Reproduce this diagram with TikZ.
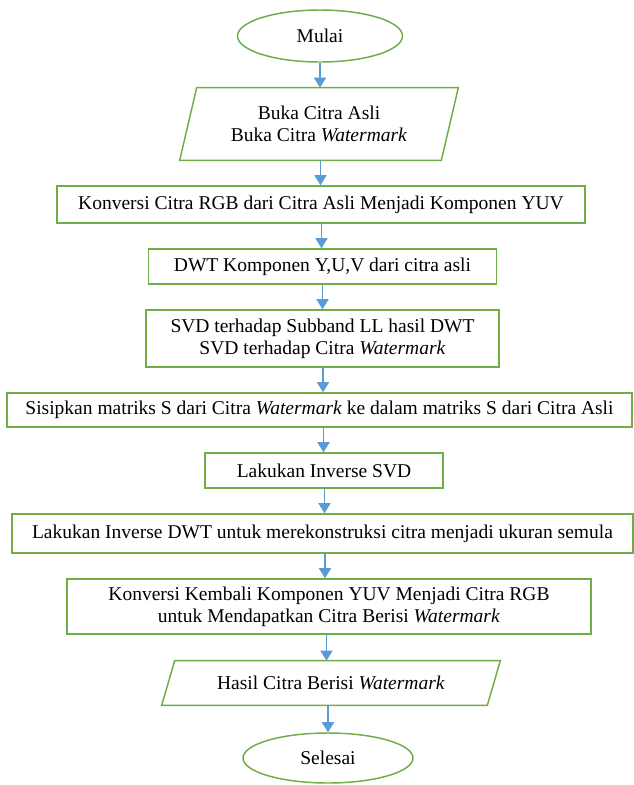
\documentclass[tikz,border=0pt]{standalone}
\usepackage{fontspec}
\setmainfont{Liberation Serif}
\usetikzlibrary{shapes.geometric,arrows.meta,calc}
\definecolor{boxgreen}{HTML}{70AD47}
\definecolor{arrblue}{HTML}{5B9BD5}
\def\u{0.615pt}
\begin{document}
\begin{tikzpicture}[x=0.615pt,y=-0.615pt,
  every node/.style={font=\fontsize{12}{13.4}\selectfont, align=center, inner sep=0pt},
  procbox/.style={draw=boxgreen, line width=0.9pt, fill=white, rectangle},
  termbox/.style={draw=boxgreen, line width=0.9pt, fill=white, ellipse},
  iobox/.style={rectangle},
  pgram/.style={draw=boxgreen, line width=0.9pt, line join=miter},
  arr/.style={draw=arrblue, line width=1pt, -{Triangle[width=7.4pt,length=6.2pt]}}
]
\useasboundingbox (0,0) rectangle (634,785);
\fill[white] (0,0) rectangle (634,785);

% nodes
\node[termbox, minimum width={165*\u}, minimum height={52*\u}] (mulai) at (320,36) {Mulai};
\node[iobox, minimum width={261*\u}, minimum height={72*\u}] (p1) at (319,124) {Buka Citra Asli\\Buka Citra \textit{Watermark}};
\node[procbox, minimum width={528*\u}, minimum height={37*\u}] (k1) at (321,204.5) {Konversi Citra RGB dari Citra Asli Menjadi Komponen YUV};
\node[procbox, minimum width={348*\u}, minimum height={35*\u}] (dwt) at (322.5,266.5) {DWT Komponen Y,U,V dari citra asli};
\node[procbox, minimum width={353*\u}, minimum height={57*\u}] (svd) at (322.5,338.5) {SVD terhadap Subband LL hasil DWT\\SVD terhadap Citra \textit{Watermark}};
\node[procbox, minimum width={625*\u}, minimum height={34*\u}] (sis) at (319.5,410) {Sisipkan matriks S dari Citra \textit{Watermark} ke dalam matriks S dari Citra Asli};
\node[procbox, minimum width={238*\u}, minimum height={35*\u}] (isvd) at (324,470.5) {Lakukan Inverse SVD};
\node[procbox, minimum width={621*\u}, minimum height={39*\u}] (idwt) at (322.5,533.5) {Lakukan Inverse DWT untuk merekonstruksi citra menjadi ukuran semula};
\node[procbox, minimum width={524*\u}, minimum height={55*\u}] (kk) at (329,606.5) {Konversi Kembali Komponen YUV Menjadi Citra RGB\\untuk Mendapatkan Citra Berisi \textit{Watermark}};
\node[iobox, minimum width={325*\u}, minimum height={44*\u}] (hasil) at (331,683) {Hasil Citra Berisi \textit{Watermark}};
\node[termbox, minimum width={170*\u}, minimum height={50*\u}] (selesai) at (328,758) {Selesai};

% parallelograms
\draw[pgram] ([xshift={-8.5*\u}]p1.south west) -- ([xshift={-8.5*\u}]p1.south east)
  -- ([xshift={8.5*\u}]p1.north east) -- ([xshift={8.5*\u}]p1.north west) -- cycle;
\draw[pgram] ([xshift={-6.5*\u}]hasil.south west) -- ([xshift={-6.5*\u}]hasil.south east)
  -- ([xshift={6.5*\u}]hasil.north east) -- ([xshift={6.5*\u}]hasil.north west) -- cycle;

% arrow axis
\coordinate (a1) at (320,0);
\coordinate (a2) at (320.5,0);
\coordinate (a3) at (321.5,0);
\coordinate (a4) at (322.5,0);
\coordinate (a5) at (323,0);
\coordinate (a6) at (323.5,0);
\coordinate (a7) at (324.5,0);
\coordinate (a8) at (325,0);
\coordinate (a9) at (326.5,0);
\coordinate (a10) at (328,0);

\draw[arr] (mulai.south -| a1) -- (p1.north -| a1);
\draw[arr] (p1.south -| a2) -- (k1.north -| a2);
\draw[arr] (k1.south -| a3) -- (dwt.north -| a3);
\draw[arr] (dwt.south -| a4) -- (svd.north -| a4);
\draw[arr] (svd.south -| a5) -- (sis.north -| a5);
\draw[arr] (sis.south -| a6) -- (isvd.north -| a6);
\draw[arr] (isvd.south -| a7) -- (idwt.north -| a7);
\draw[arr] (idwt.south -| a8) -- (kk.north -| a8);
\draw[arr] (kk.south -| a9) -- (hasil.north -| a9);
\draw[arr] (hasil.south -| a10) -- (selesai.north -| a10);
\end{tikzpicture}
\end{document}
